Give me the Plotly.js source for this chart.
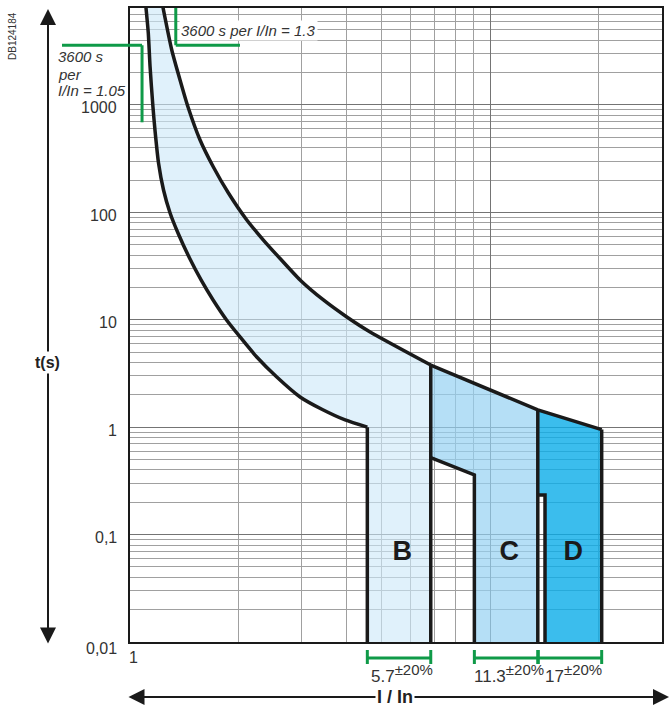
<!DOCTYPE html>
<html>
<head>
<meta charset="utf-8">
<script src="https://cdn.plot.ly/plotly-3.0.1.min.js"></script>
<style>html,body{margin:0;padding:0;background:#fff;}#chart{width:672px;height:706px;}</style>
</head>
<body>
<div id="chart"></div>
<script>
// ---- data ----
// lower (1.05 In) boundary of the thermal band
const lowerI = [1.104, 1.124, 1.137, 1.158, 1.173, 1.200, 1.239, 1.292, 1.359, 1.463, 1.575, 1.701, 1.854, 2.021, 2.249, 2.556, 2.966, 3.420, 3.956];
const lowerT = [9000, 4682, 2259, 958, 585, 288.4, 161.7, 98.7, 64.3, 37.6, 23.5, 15.29, 9.96, 6.92, 4.50, 2.93, 1.91, 1.46, 1.167];
const lowerEndT = 1.0;
// upper (1.3 In) boundary of the thermal band
const upperI = [1.227, 1.306, 1.377, 1.449, 1.565, 1.704, 1.876, 2.110, 2.346, 2.610, 2.966, 3.444, 3.999, 4.642];
const upperT = [9000, 3251, 1709, 958, 472, 264.7, 151.6, 85.0, 55.3, 37.2, 23.5, 15.29, 10.62, 7.70];
// curve types and magnetic trip ratings
const curveNames = ['B', 'C', 'D'];
const ratings = [5.7, 11.3, 17];
const tolerance = 0.20;
const ratingLabels = ['5.7', '11.3', '17'];
// upper curve value at each curve's high limit (B, C, D)
const cornerT = [3.79, 1.45, 0.95];
// C: lower edge step, t at B high limit and at C low limit
const cStepT = [0.52, 0.36];
// D: notch
const dNotchI = 14.2;
const dNotchT = 0.234;
const curveLabelT = 0.067;
// markers: 3600 s at 1.05 and 1.3 In
const markerI = [1.08, 1.34];
const markerT = 3600;
const markerEndT = 690;
const markerEndI = 2.02;
// axes
const xMax = 30, yMin = 0.01, yMax = 8000;
const yTickVals = [0.01, 0.1, 1, 10, 100, 1000];
const yTickText = ['0,01', '0,1', '1', '10', '100', '1000'];
const xTickVals = [1, 10];
const xTickText = ['1', ''];

// ---- derived ----
const lo = ratings.map(r => r * (1 - tolerance));
const hi = ratings.map(r => r * (1 + tolerance));

const black = '#1a1a1a';
const green = '#0f9a48';
const font = '"Liberation Sans", Arial, sans-serif';
const LW = 3.5;

const traces = [];
// light thermal band + B region
traces.push({
  x: [...lowerI, lo[0], lo[0], hi[0], hi[0], ...upperI.slice().reverse()],
  y: [...lowerT, lowerEndT, yMin, yMin, cornerT[0], ...upperT.slice().reverse()],
  mode: 'lines', fill: 'toself', fillcolor: 'rgba(205,232,248,0.62)',
  line: {width: 0}, hoverinfo: 'skip'
});
// C region
traces.push({
  x: [hi[0], hi[1], hi[1], lo[1], lo[1], hi[0]],
  y: [cornerT[0], cornerT[1], yMin, yMin, cStepT[1], cStepT[0]],
  mode: 'lines', fill: 'toself', fillcolor: 'rgba(150,210,242,0.70)',
  line: {width: 0}, hoverinfo: 'skip'
});
// D region
traces.push({
  x: [lo[2], hi[2], hi[2], dNotchI, dNotchI, lo[2]],
  y: [cornerT[1], cornerT[2], yMin, yMin, dNotchT, dNotchT],
  mode: 'lines', fill: 'toself', fillcolor: 'rgba(10,172,233,0.80)',
  line: {width: 0}, hoverinfo: 'skip'
});
// black outlines
const L = (x, y, shape) => ({x, y, mode: 'lines', line: {color: black, width: LW, shape: shape || 'linear', smoothing: 0.6}, hoverinfo: 'skip'});
traces.push(L([...lowerI, lo[0]], [...lowerT, lowerEndT], 'spline'));
traces.push(L([lo[0], lo[0]], [lowerEndT, yMin]));
traces.push(L([...upperI, hi[0]], [...upperT, cornerT[0]], 'spline'));
traces.push(L([hi[0], hi[1], hi[2]], cornerT));
traces.push(L([hi[0], hi[0]], [yMin, cornerT[0]]));
traces.push(L([hi[0], lo[1], lo[1]], [cStepT[0], cStepT[1], yMin]));
traces.push(L([hi[1], hi[1]], [yMin, cornerT[1]]));
traces.push(L([hi[1], dNotchI, dNotchI], [dNotchT, dNotchT, yMin]));
traces.push(L([hi[2], hi[2]], [yMin, cornerT[2]]));
// curve letters
traces.push({
  x: ratings, y: ratings.map(() => curveLabelT), text: curveNames, mode: 'text',
  textfont: {family: font, size: 27, color: black, weight: 'bold'}, hoverinfo: 'skip'
});

const plotH = 706 - 8 - 64, plotW = 672 - 130 - 10;
const pyPaper = py => (642 - py) / plotH;   // pixel row -> paper y
const pxPaper = px => (px - 130) / plotW;   // pixel col -> paper x
const xPaperOf = v => Math.log10(v) / Math.log10(xMax);

const shapes = [];
const gl = {color: green, width: 3};
// 1.3 marker
shapes.push({type: 'line', xref: 'x', yref: 'y', x0: markerI[1], x1: markerI[1], y0: 12000, y1: markerT, line: gl});
shapes.push({type: 'line', xref: 'x', yref: 'y', x0: markerI[1], x1: markerEndI, y0: markerT, y1: markerT, line: gl});
// 1.05 marker
shapes.push({type: 'line', xref: 'x', yref: 'y', x0: markerI[0], x1: markerI[0], y0: markerT, y1: markerEndT, line: gl});
shapes.push({type: 'line', xref: 'paper', yref: 'y', x0: pxPaper(62), x1: xPaperOf(markerI[0]), y0: markerT, y1: markerT, line: gl});
// tolerance brackets
const bY = pyPaper(658), bT0 = pyPaper(650), bT1 = pyPaper(664);
ratings.forEach((r, i) => {
  shapes.push({type: 'line', xref: 'x', yref: 'paper', x0: lo[i], x1: hi[i], y0: bY, y1: bY, line: gl});
  shapes.push({type: 'line', xref: 'x', yref: 'paper', x0: lo[i], x1: lo[i], y0: bT0, y1: bT1, line: gl});
  shapes.push({type: 'line', xref: 'x', yref: 'paper', x0: hi[i], x1: hi[i], y0: bT0, y1: bT1, line: gl});
});

const annotations = [];
const tf = (size, extra) => Object.assign({family: font, size: size, color: '#333'}, extra || {});
// y tick labels
yTickVals.forEach((v, i) => {
  annotations.push({xref: 'paper', yref: 'y', x: pxPaper(119), y: Math.log10(v), text: yTickText[i],
    showarrow: false, font: tf(16), xanchor: 'right', yanchor: 'middle', yshift: i === 0 ? -6 : -3});
});
// x tick label
annotations.push({xref: 'x', yref: 'paper', x: Math.log10(xTickVals[0]), y: pyPaper(657), text: xTickText[0],
  showarrow: false, font: tf(16), xanchor: 'center', yanchor: 'middle', xshift: 3});
ratings.forEach((r, i) => {
  annotations.push({xref: 'x', yref: 'paper', x: Math.log10(r), y: pyPaper(673), text: ratingLabels[i] + '<sup><span style="font-size:15px">±20%</span></sup>',
    showarrow: false, font: tf(17), xanchor: 'center', yanchor: 'middle'});
});
annotations.push({xref: 'paper', yref: 'paper', x: pxPaper(179), y: pyPaper(31), text: '<i>3600 s per I/In = 1.3</i>',
  showarrow: false, font: tf(15), xanchor: 'left', yanchor: 'middle', bgcolor: '#ffffff', borderpad: 1});
[['3600 s', 57], ['per', 74], ['I/In = 1.05', 91]].forEach(([t, py]) => {
  annotations.push({xref: 'paper', yref: 'paper', x: pxPaper(56), y: pyPaper(py), text: '<i>' + t + '</i>',
    showarrow: false, font: tf(15), xanchor: 'left', yanchor: 'middle'});
});
annotations.push({xref: 'paper', yref: 'paper', x: pxPaper(13), y: pyPaper(36), text: 'DB124184', textangle: -90,
  showarrow: false, font: tf(10), xanchor: 'center', yanchor: 'middle'});
// axis arrows
annotations.push({xref: 'paper', yref: 'paper', x: pxPaper(48), y: pyPaper(9), ax: 0, ay: 636, axref: 'pixel', ayref: 'pixel',
  text: '', showarrow: true, arrowhead: 2, arrowside: 'end+start', arrowsize: 1.6, arrowwidth: 2, arrowcolor: black, standoff: 0, startstandoff: 0});
annotations.push({xref: 'paper', yref: 'paper', x: pxPaper(669), y: pyPaper(697), ax: -542, ay: 0, axref: 'pixel', ayref: 'pixel',
  text: '', showarrow: true, arrowhead: 2, arrowside: 'end+start', arrowsize: 1.6, arrowwidth: 2, arrowcolor: black, standoff: 0, startstandoff: 0});
annotations.push({xref: 'paper', yref: 'paper', x: pxPaper(47), y: pyPaper(362), text: '<b>t(s)</b>',
  showarrow: false, font: tf(16, {color: '#222'}), bgcolor: '#ffffff', borderpad: 2, xanchor: 'center', yanchor: 'middle'});
annotations.push({xref: 'paper', yref: 'paper', x: pxPaper(395), y: pyPaper(697), text: '<b>I / In</b>',
  showarrow: false, font: tf(18, {color: '#222'}), bgcolor: '#ffffff', borderpad: 1, xanchor: 'center', yanchor: 'middle'});

const axisCommon = {
  type: 'log', tickmode: 'array', showticklabels: false,
  showgrid: true, gridcolor: '#747474', gridwidth: 1,
  minor: {dtick: 'D1', showgrid: true, gridcolor: '#a0a0a0', gridwidth: 1, ticks: ''},
  showline: true, mirror: true, linecolor: black, linewidth: 2, ticks: '', zeroline: false, fixedrange: true
};
const layout = {
  width: 672, height: 706,
  margin: {l: 130, r: 10, t: 8, b: 64, pad: 0},
  paper_bgcolor: '#ffffff', plot_bgcolor: '#ffffff',
  showlegend: false,
  font: {family: font, color: '#333'},
  xaxis: Object.assign({}, axisCommon, {range: [0, Math.log10(xMax)], tickvals: xTickVals, ticktext: xTickText}),
  yaxis: Object.assign({}, axisCommon, {range: [Math.log10(yMin), Math.log10(yMax)], tickvals: yTickVals, ticktext: yTickText}),
  shapes: shapes,
  annotations: annotations
};

Plotly.newPlot('chart', traces, layout, {displayModeBar: false, staticPlot: true});
</script>
</body>
</html>
